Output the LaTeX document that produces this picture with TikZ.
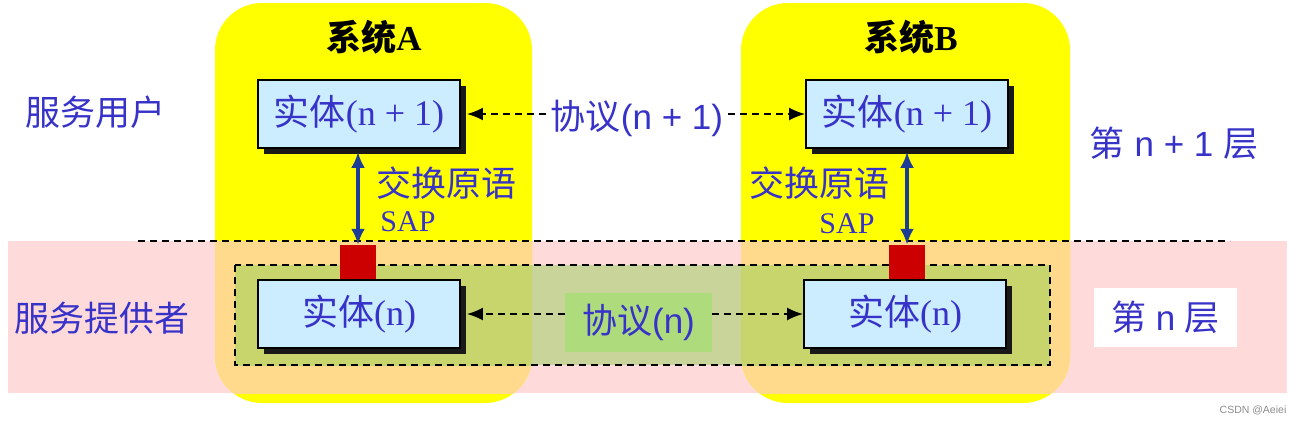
\documentclass[tikz,border=0pt]{standalone}
\usepackage{fontspec}
\setmainfont{Liberation Serif}
\setsansfont{Liberation Sans}
\newfontfamily\cjk{Noto Sans CJK SC}
\usetikzlibrary{arrows.meta,shadows}
\definecolor{txtblue}{RGB}{55,50,200}
\definecolor{yfill}{RGB}{255,255,0}
\definecolor{pinkband}{RGB}{255,218,218}
\definecolor{orangeov}{RGB}{255,218,140}
\definecolor{greenlt}{RGB}{201,212,155}
\definecolor{greendk}{RGB}{200,212,108}
\definecolor{protgreen}{RGB}{174,220,124}
\definecolor{entblue}{RGB}{204,236,255}
\definecolor{sapred}{RGB}{204,0,0}
\definecolor{arrblue}{RGB}{28,60,150}
\tikzset{
  sysbox/.style={rounded corners=47pt},
  ent/.style={draw=black, line width=1.8pt, fill=entblue, minimum width=202pt,
    minimum height=68pt, inner sep=0pt, text=txtblue,
    font=\rmfamily\fontsize{36}{42}\selectfont,
    drop shadow={shadow xshift=6pt, shadow yshift=-6pt, fill=black!90, opacity=1}},
  proto/.style={dash pattern=on 7pt off 5pt, line width=2pt,
    -{Latex[length=16pt,width=13pt]}},
  prim/.style={draw=arrblue, line width=4pt,
    {Latex[length=16pt,width=14pt]}-{Latex[length=16pt,width=14pt]}},
  sapbox/.style={fill=sapred, minimum width=36pt, minimum height=34pt, inner sep=0pt},
  lbl/.style={text=txtblue, font=\cjk\fontsize{35}{40}\selectfont, inner sep=0pt},
  slbl/.style={text=txtblue, font=\sffamily\fontsize{35}{40}\selectfont, inner sep=0pt},
  title/.style={text=black, font=\rmfamily\bfseries\fontsize{35}{40}\selectfont, inner sep=0pt},
  boxdash/.style={dash pattern=on 7pt off 5pt, line width=2pt},
}
\begin{document}
\begin{tikzpicture}[x=1pt,y=-1pt]
\useasboundingbox (0,0) rectangle (1298,423);
% pink band
\fill[pinkband] (8,241) rectangle (1287,393);
% system boxes
\fill[yfill,sysbox] (215,3) rectangle (532,403);
\fill[yfill,sysbox] (741,3) rectangle (1070,403);
\begin{scope}
  \clip (8,241) rectangle (1287,393);
  \fill[orangeov,sysbox] (215,3) rectangle (532,403);
  \fill[orangeov,sysbox] (741,3) rectangle (1070,403);
\end{scope}
\draw[boxdash] (138,241) -- (1230,241);
% service provider dashed box
\fill[greenlt] (235,265) rectangle (1050,365);
\begin{scope}
  \clip (235,265) rectangle (1050,365);
  \fill[greendk,sysbox] (215,3) rectangle (532,403);
  \fill[greendk,sysbox] (741,3) rectangle (1070,403);
\end{scope}
\draw[boxdash] (235,265) rectangle (1050,365);

% titles
\node[title] (tA) at (374,37) {{\cjk\bfseries 系统}A};
\node[title] (tB) at (911,37) {{\cjk\bfseries 系统}B};

% left labels
\node[lbl] (user) at (95,112) {服务用户};
\node[lbl] (prov) at (102,318) {服务提供者};

% entities
\node[ent] (eA1) at (359,114) {{\cjk 实体}(n + 1)};
\node[ent] (eB1) at (907,114) {{\cjk 实体}(n + 1)};
\node[ent] (eA0) at (359,314) {{\cjk 实体}(n)};
\node[ent] (eB0) at (905,314) {{\cjk 实体}(n)};

% SAP squares
\node[sapbox] (sA) at (358,262) {};
\node[sapbox] (sB) at (907,262) {};

% primitives arrows
\draw[prim] (sA.north |- eA1.south) ++(0,3) -- (sA.north);
\draw[prim] (sB.north |- eB1.south) ++(0,3) -- (sB.north);
\node[lbl] (xA) at (446,183) {交换原语};
\node[lbl] (xB) at (819,183) {交换原语};
\node[text=txtblue, font=\rmfamily\fontsize{30}{36}\selectfont, inner sep=0pt] (sapA) at (408,222) {SAP};
\node[text=txtblue, font=\rmfamily\fontsize{30}{36}\selectfont, inner sep=0pt] (sapB) at (847,224) {SAP};

% protocol n+1
\node[slbl] (p1) at (637,118) {{\cjk 协议}(n + 1)};
\draw[proto] (p1.west |- eA1.east) ++(-5,0) -- ([xshift=6pt]eA1.east);
\draw[proto] (p1.east |- eB1.west) ++(5,0) -- (eB1.west);

% protocol n
\node[slbl, fill=protgreen, minimum width=147pt, minimum height=59pt] (pn) at (638.5,322.5) {{\cjk 协议}(n)};
\draw[proto] (pn.west |- eA0.east) -- ([xshift=6pt]eA0.east);
\draw[proto] (pn.east |- eB0.west) -- (eB0.west);

% layer labels
\node[slbl] (l1) at (1174,143) {{\cjk 第} n + 1 {\cjk 层}};
\node[slbl, fill=white, minimum width=143pt, minimum height=59pt] (l0) at (1165.5,317.5) {{\cjk 第} n {\cjk 层}};

% watermark
\node[text=black!45, font=\sffamily\fontsize{10.5}{12}\selectfont, inner sep=0pt] (wm) at (1253,410) {CSDN @Aeiei};
\end{tikzpicture}
\end{document}
